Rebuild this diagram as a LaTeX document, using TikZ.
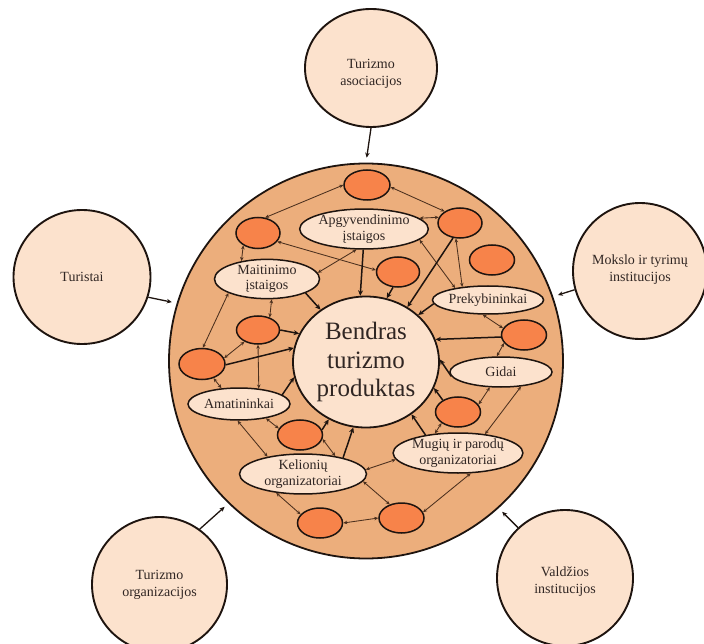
\documentclass[tikz,border=0pt]{standalone}
\usepackage{fontspec}
\setmainfont{Liberation Serif}
\usetikzlibrary{shapes.geometric,arrows.meta}
\definecolor{bigfill}{RGB}{236,174,124}
\definecolor{lightfill}{RGB}{252,226,205}
\definecolor{orangefill}{RGB}{247,131,74}
\definecolor{txt}{RGB}{48,38,35}
\definecolor{edge}{RGB}{30,20,15}
\definecolor{thinline}{RGB}{75,48,30}
\tikzset{
  outertext/.style={text=txt, align=center, font=\fontsize{14}{17}\selectfont},
  outer/.style={ellipse, draw=edge, line width=1.9pt, fill=lightfill, inner sep=0pt, outertext},
  bigc/.style={ellipse, draw=edge, line width=1.8pt, fill=bigfill, inner sep=0pt},
  core/.style={ellipse, draw=edge, line width=1.8pt, fill=lightfill, inner sep=0pt,
    text=txt, align=center, font=\fontsize{25}{28.5}\selectfont},
  dot/.style={ellipse, draw=edge, line width=1.5pt, fill=orangefill, inner sep=0pt,
    minimum width=45pt, minimum height=30pt},
  lab/.style={ellipse, draw=edge, line width=1.5pt, fill=lightfill, inner sep=0pt,
    text=txt, align=center, font=\fontsize{14}{15.5}\selectfont},
  td/.style={thinline, line width=0.85pt, {Stealth[length=4pt,width=3.5pt]}-{Stealth[length=4pt,width=3.5pt]}},
  ts/.style={edge, line width=1.5pt, -{Stealth[length=5.5pt,width=5pt]}},
  ext/.style={edge, line width=1.3pt, -{Stealth[length=5pt,width=4.5pt]}, shorten >=5pt},
}
\begin{document}
\begin{tikzpicture}[x=1pt,y=-1pt]
\useasboundingbox (0,0) rectangle (704,644);
% outer circles
\node[outer, minimum width=132pt, minimum height=118pt,
  label={[outertext, yshift=-5.5pt]center:{Turizmo\\asociacijos}}] (ta) at (371,68) {};
\node[outer, minimum width=137pt, minimum height=134pt] (tu) at (82,277) {Turistai};
\node[outer, minimum width=134pt, minimum height=136pt,
  label={[outertext, yshift=1.5pt]center:{Mokslo ir tyrimų\\institucijos}}] (mo) at (640,271) {};
\node[outer, minimum width=135pt, minimum height=135pt] (to) at (159.5,584.5) {Turizmo\\organizacijos};
\node[outer, minimum width=136pt, minimum height=136pt,
  label={[outertext, yshift=-3.5pt]center:{Valdžios\\institucijos}}] (va) at (565,578) {};
% big circle
\node[bigc, minimum width=394pt, minimum height=395pt] (big) at (366,361) {};
% center
\node[core, minimum width=146pt, minimum height=131pt] (bp) at (366,362) {Bendras\\turizmo\\produktas};
% orange ellipses
\node[dot, minimum width=46pt] (o1) at (367,185) {};
\node[dot, minimum width=44pt, minimum height=31pt] (o2) at (258,233) {};
\node[dot, minimum width=44pt] (o3) at (460,223) {};
\node[dot, minimum width=43pt] (o4) at (398,272) {};
\node[dot] (o5) at (492,260) {};
\node[dot, minimum width=43pt, minimum height=28pt] (o6) at (258,330) {};
\node[dot] (o7) at (524,335) {};
\node[dot, minimum width=46pt, minimum height=31pt] (o8) at (202,364) {};
\node[dot] (o9) at (458,412) {};
\node[dot] (o10) at (300,435) {};
\node[dot] (o11) at (320,523) {};
\node[dot] (o12) at (401.5,518) {};
% labelled ellipses
\node[lab, minimum width=128pt, minimum height=35pt] (ap) at (364,229) {Apgyvendinimo\\įstaigos};
\node[lab, minimum width=105pt, minimum height=38pt] (ma) at (267,279) {Maitinimo\\įstaigos};
\node[lab, minimum width=106pt, minimum height=28pt] (pr) at (488,300) {Prekybininkai};
\node[lab, minimum width=102pt, minimum height=30pt] (gi) at (501,372) {Gidai};
\node[lab, minimum width=102pt, minimum height=32pt] (am) at (239,404) {Amatininkai};
\node[lab, minimum width=129pt, minimum height=40pt] (mu) at (458,453) {Mugių ir parodų\\organizatoriai};
\node[lab, minimum width=127pt, minimum height=38pt] (ke) at (303,474) {Kelionių\\organizatoriai};
% outer arrows
\draw[ext] (ta.270) -- (big.90);
\draw[ext] (tu.343) -- (big.163);
\draw[ext] (mo.196) -- (big.19);
\draw[ext] (to.54) -- (big.226);
\draw[ext] (va.133) -- (big.312);
% thin double arrows
\draw[td] (o1.180) -- (o2.65);
\draw[td] (o1.355) -- (o3.143);
\draw[td] (ap.11) -- (o3.165);
\draw[td] (o2.220) -- (ma.145);
\draw[td] (o2.336) -- (o4.175);
\draw[td] (ap.250) -- (ma.7);
\draw[td] (ap.349) -- (pr.160);
\draw[td] (o3.255) -- (pr.153);
\draw[td] (ma.283) -- (o6.47);
\draw[td] (ma.200) -- (o8.87);
\draw[td] (pr.250) -- (o7.162);
\draw[td] (o8.15) -- (o6.221);
\draw[td] (o6.270) -- (am.38);
\draw[td] (o8.309) -- (am.138);
\draw[td] (am.332) -- (o10.163);
\draw[td] (am.265) -- (ke.154);
\draw[td] (o10.350) -- (ke.29);
\draw[td] (ke.4) -- (mu.186);
\draw[td] (ke.353) -- (o12.131);
\draw[td] (ke.215) -- (o11.156);
\draw[td] (o11.0) -- (o12.180);
\draw[td] (o12.15) -- (mu.302);
\draw[td] (mu.140) -- (o9.214);
\draw[td] (o9.20) -- (gi.234);
\draw[td] (o7.202) -- (gi.105);
\draw[td] (mu.35) -- (gi.324);
% arrows to the core
\draw[ts] (ap.268) -- (bp.95);
\draw[ts] (o4.252) -- (bp.72);
\draw[ts] (o3.245) -- (bp.53);
\draw[ts] (pr.184) -- (bp.42);
\draw[ts] (ma.340) -- (bp.131);
\draw[ts] (o6.0) -- (bp.157);
\draw[ts] (o7.185) -- (bp.18);
\draw[ts] (o8.358) -- (bp.169);
\draw[ts] (am.12) -- (bp.192);
\draw[ts] (o10.13) -- (bp.237);
\draw[ts] (ke.22) -- (bp.259);
\draw[ts] (mu.151) -- (bp.311);
\draw[ts] (o9.142) -- (bp.339);
\draw[ts] (gi.185) -- (bp.2);
\end{tikzpicture}
\end{document}
